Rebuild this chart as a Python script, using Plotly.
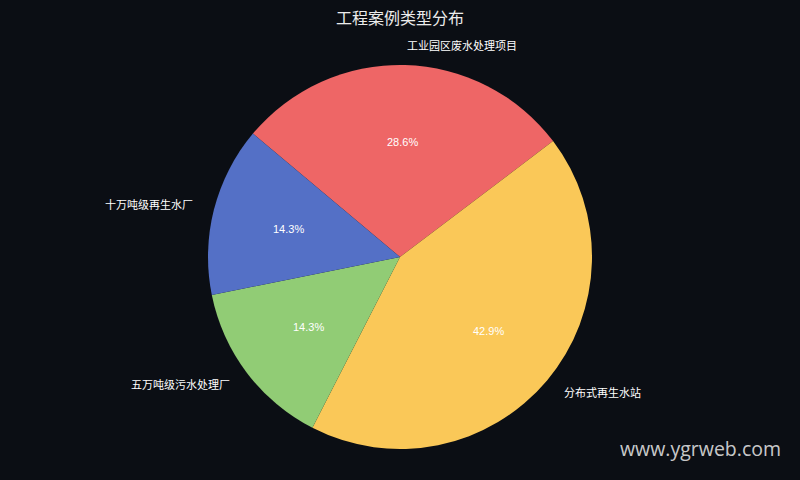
import math
import plotly.graph_objects as go

# ── Data ────────────────────────────────────────────────────────────────────
labels = ["工业园区废水处理项目", "分布式再生水站", "五万吨级污水处理厂", "十万吨级再生水厂"]
counts = [2, 3, 1, 1]
colors = ["#ee6666", "#fac858", "#91cc75", "#5470c6"]

START_DEG = -50          # first slice starts 50° left of 12 o'clock, clockwise
BG = "#0b0e14"
W, H = 800, 480
M_L, M_R, M_T, M_B = 100, 100, 65, 31

fig = go.Figure()
fig.add_trace(go.Pie(
    labels=labels, values=counts,
    marker=dict(colors=colors, line=dict(width=0)),
    sort=False, direction="clockwise", rotation=START_DEG,
    textinfo="none", hoverinfo="label+percent",
    showlegend=False,
))

# label / percent positions follow the slice mid-angles (matplotlib-ish layout)
pw, ph = W - M_L - M_R, H - M_T - M_B
r_px = min(pw, ph) / 2
total = sum(counts)
acc = START_DEG
for lab, v in zip(labels, counts):
    span = 360 * v / total
    mid = math.radians(acc + span / 2)
    acc += span
    sx, cy = math.sin(mid), math.cos(mid)
    # percent at 0.6 r
    fig.add_annotation(
        x=0.5 + 0.6 * r_px * sx / pw, y=0.5 + 0.6 * r_px * cy / ph,
        xref="paper", yref="paper", showarrow=False,
        text=f"{100 * v / total:.1f}%",
        font=dict(size=11, color="#ffffff"),
        xanchor="center", yanchor="middle",
    )
    # category label at 1.1 r
    fig.add_annotation(
        x=0.5 + 1.1 * r_px * sx / pw, y=0.5 + 1.1 * r_px * cy / ph,
        xref="paper", yref="paper", showarrow=False,
        text=lab,
        font=dict(size=11, color="#ffffff"),
        xanchor="left" if sx > 0 else "right", yanchor="middle",
    )

# watermark, placed in pixel terms -> paper
fig.add_annotation(
    x=(783 - M_L) / pw, y=(H - M_B - 448) / ph,
    xref="paper", yref="paper", showarrow=False,
    text="www.ygrweb.com",
    font=dict(family="Open Sans, Noto Sans", size=19.5, color="rgba(225,225,225,0.9)"),
    xanchor="right", yanchor="middle",
)

fig.update_layout(
    title=dict(text="工程案例类型分布", x=0.5, xanchor="center", y=0.962, yanchor="middle",
               font=dict(size=16, color="#ececec")),
    font=dict(family="Liberation Sans, Noto Sans CJK SC, sans-serif"),
    width=W, height=H,
    margin=dict(l=M_L, r=M_R, t=M_T, b=M_B),
    paper_bgcolor=BG, plot_bgcolor=BG,
)

fig.write_html(
    "out.html",
    config={"displayModeBar": False},
    post_script=f"document.body.style.margin='0';document.body.style.background='{BG}';",
)
